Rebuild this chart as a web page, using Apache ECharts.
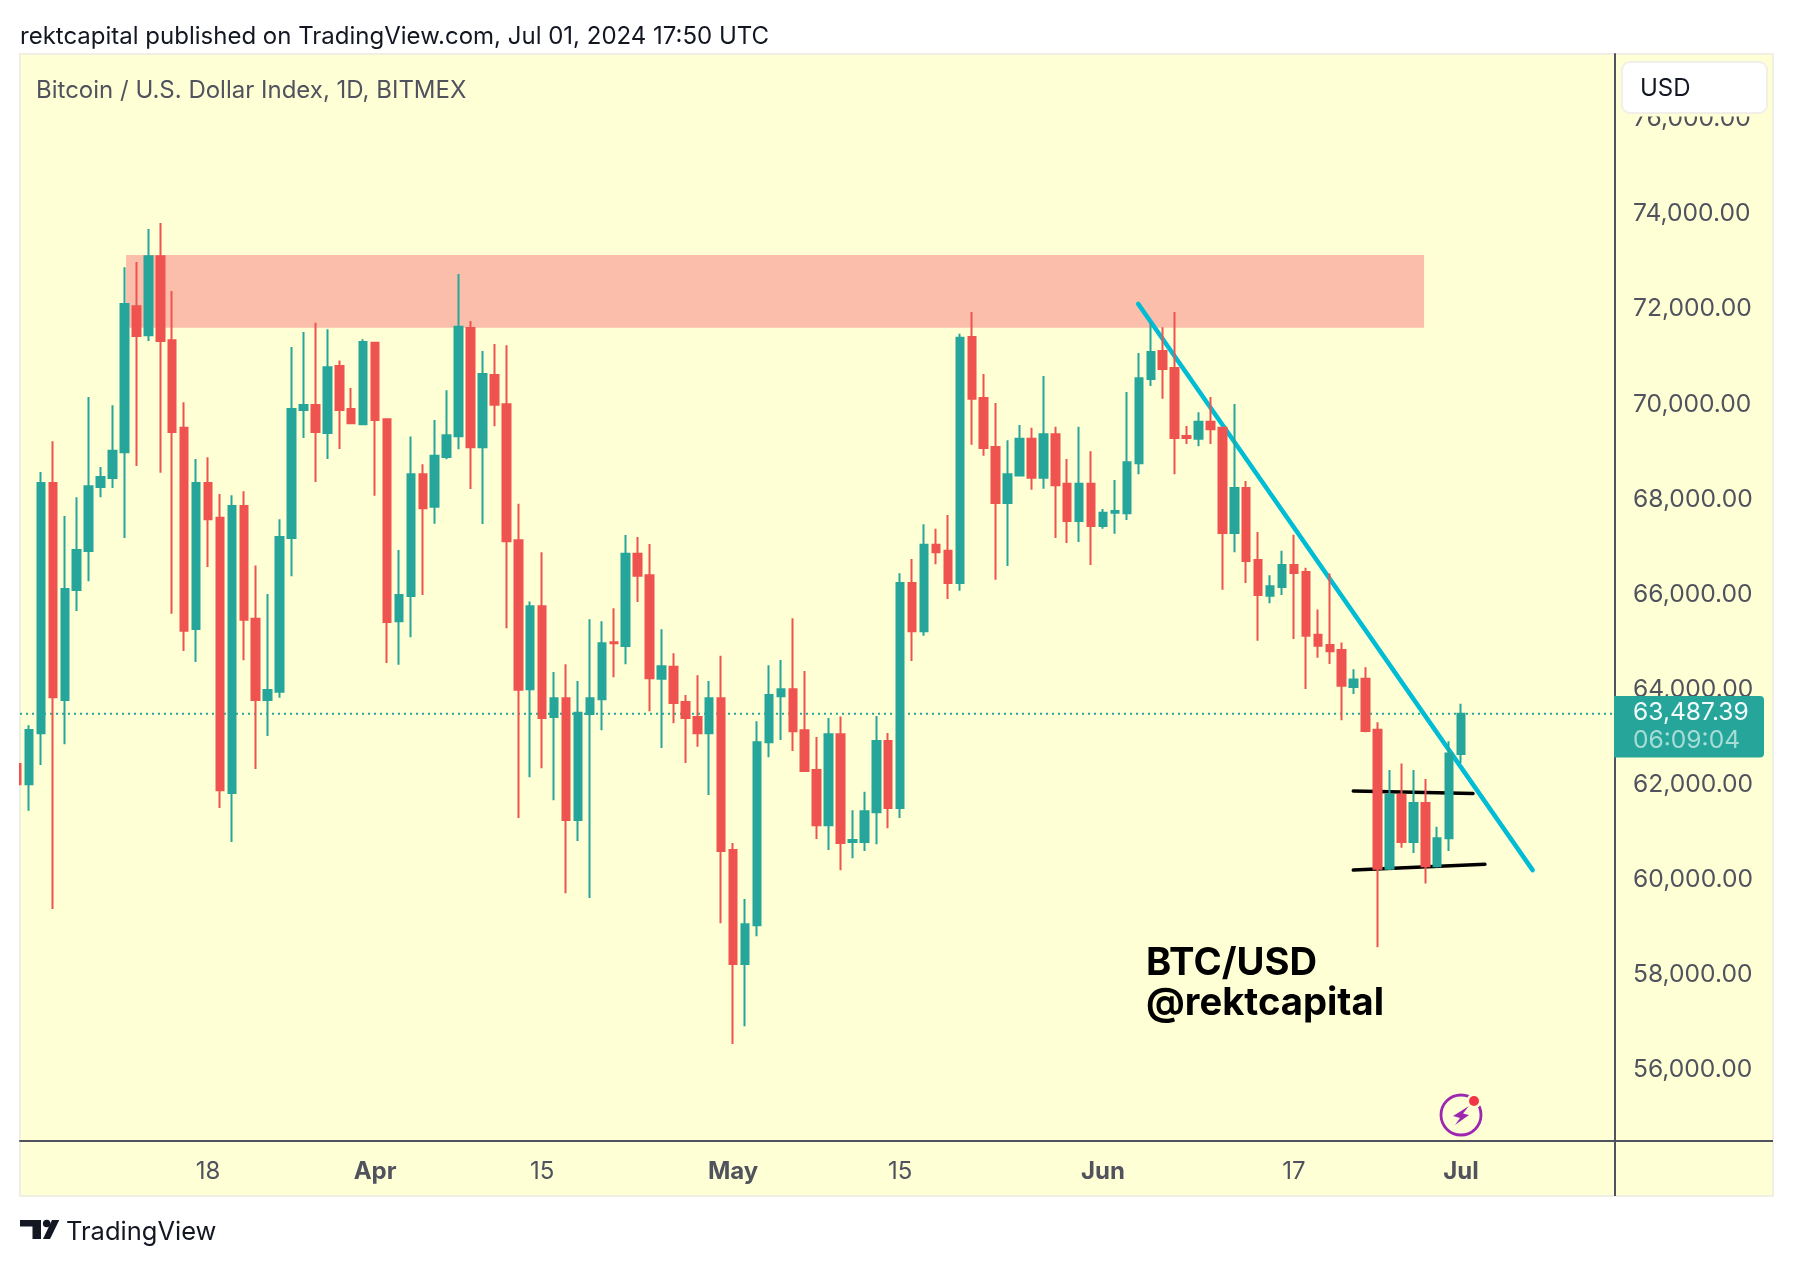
<!DOCTYPE html>
<html><head><meta charset="utf-8">
<style>html,body{margin:0;padding:0;background:#fff}#c{width:1794px;height:1266px}</style>
<script src="https://cdn.jsdelivr.net/npm/echarts@6/dist/echarts.min.js"></script>
</head><body><div id="c"></div>
<script>
const firstDayIndex = -1; // Mar 2 2024 (day 0 = Mar 3)
const opens = [62433,62008,63080,68342,63775,66092,66913,68255,68448,68989,72060,71451,73112,71345,69501,65272,68342,67608,61824,67859,65484,63775,63949,67183,69878,69984,69395,70804,69897,69578,71290,69684,65436,65967,68526,67840,68886,69326,71603,69095,70613,69997,67137,64002,65751,63419,63815,61252,63485,63793,64992,64915,66851,66400,64222,64475,63738,63419,63078,63815,60625,58227,59041,62891,63859,64002,63144,62308,61142,63056,60790,60790,61417,62917,61507,66239,65225,67040,66915,66239,71414,70130,69097,67919,68498,69271,68450,69367,68324,67542,68324,67436,67716,67706,68759,70526,71115,70758,69329,69271,69628,69502,67291,68238,66722,65968,66152,66615,66470,65148,64935,64828,64050,64224,63151,60227,61783,60791,61609,60281,60871,62641];
const closes = [62008,63147,68342,63833,66112,66932,68275,68468,69018,72108,71432,73112,71326,69414,65233,68342,67579,61882,67859,65465,63775,63987,67203,69897,69984,69414,70776,69878,69598,71307,69665,65416,65986,68526,67811,68912,69348,71625,69095,70635,69986,67115,63991,65751,63397,63815,61252,63507,63815,64970,64970,66851,66389,64233,64486,63716,63397,63078,63815,60603,58227,59063,62891,63881,64002,63122,62286,61142,63056,60768,60834,61439,62913,61507,66239,65225,67040,66886,66239,71395,70111,69078,67919,68527,69271,68450,69367,68295,67542,68324,67436,67716,67755,68778,70545,71096,70738,69290,69290,69628,69473,67291,68238,66702,65988,66171,66615,66451,65128,64916,64801,64076,64211,63124,60227,61783,60791,61609,60281,60871,62655,63487.39];
const lows = [62008,61448,62413,59381,62848,65648,66276,68043,68236,67183,68699,71326,68555,65590,64808,64576,66575,61506,60791,64615,62327,63022,63823,66382,69289,68361,68844,69057,69578,69570,68072,64557,64518,65098,65986,67483,68842,69051,68215,67478,69535,65289,61296,62154,62341,61670,59712,60812,59613,63144,64255,64530,65839,63540,62770,63287,62451,62792,61780,59085,56544,56918,58810,62572,62935,62704,62264,60856,60625,60196,60449,60603,60746,61082,61295,64597,65128,66635,65901,66075,69145,68913,66306,66596,68489,68199,68218,67185,67079,67098,66615,67378,67272,67562,68527,70381,70111,68527,69164,69116,69164,66094,66886,66239,65022,65814,65988,65061,64008,64665,64533,63352,63902,63100,58578,60200,60670,60562,59919,60254,60603,62454];
const highs = [62433,63244,68574,69221,67647,68043,70148,68680,69974,72881,72987,73682,73808,72378,70042,68844,68883,68110,68082,68168,66604,66005,67579,71200,71519,71712,71577,70920,70341,71365,71300,69690,66932,69317,68738,69665,70294,72736,71746,71119,71262,71240,67907,65850,66884,64365,64530,64178,65476,65432,65707,67247,67203,67060,65267,64761,63881,64299,64178,64706,60768,59591,63331,64508,64618,65498,64387,63001,63397,63430,61461,61846,63441,63081,66441,66741,67475,67378,67668,71482,71936,70632,70024,69242,69560,69502,70594,69522,68846,69522,69010,67793,68402,70256,71076,71723,71617,71936,69541,69831,70149,69522,70005,68382,67311,66403,66915,67253,66557,65679,66437,64989,64425,64465,63312,62306,62440,62306,62118,61112,62910,63701];

const lastPrice = 63487.39;
const countdown = '06:09:04';
const priceTicks = [56000,58000,60000,62000,64000,66000,68000,70000,72000,74000,76000];
const dayTicks = [15,29,43,59,73,90,106,120];
const dayTickLabels = ['18','Apr','15','May','15','Jun','17','Jul'];
const monthLabels = ['Apr','May','Jun','Jul'];

const zoneDays = [8.13,116.9];
const zonePrices = [73134,71606];
const trendDays = [92.94,126.0];
const trendPrices = [72110,60200];
const channelTopDays = [110.97,121.0];
const channelTopPrices = [61863,61810];
const channelBottomDays = [110.97,122.0];
const channelBottomPrices = [60200,60321];

const xMin=-0.754, xMax=132.9, yMin=54509.5, yMax=77363.3;
const BG='#FFFFD6', GREEN='#26A69A', RED='#EF5350', AXIS='#50535E', FONT='Inter';

const ohlc = opens.map((o,k)=>[k+firstDayIndex,o,closes[k],lows[k],highs[k]]);
const pair=(xs,ys)=>xs.map((x,k)=>[x,ys[k]]);
const lineSeries=(data,color,width,type,z,cap)=>({type:'line',data,symbol:'none',silent:true,z,animation:false,clip:true,
  lineStyle:{color,width,type:type||'solid',cap:cap||'round'}});

const chart=echarts.init(document.getElementById('c'),null,{renderer:'canvas',width:1794,height:1266});
chart.setOption({
  animation:false,
  backgroundColor:'#fff',
  grid:{left:20,top:54,width:1595,height:1086.7,containLabel:false},
  xAxis:{type:'value',min:xMin,max:xMax,splitLine:{show:false},
    axisLine:{show:true,lineStyle:{color:AXIS,width:2},onZero:false},axisTick:{show:false},
    axisLabel:{customValues:dayTicks,margin:19,color:AXIS,fontFamily:FONT,fontSize:24,
      formatter:v=>{const s=dayTickLabels[dayTicks.indexOf(v)];return monthLabels.includes(s)?'{m|'+s+'}':s;},
      rich:{m:{fontWeight:'bold',color:AXIS,fontFamily:FONT,fontSize:24}}}},
  yAxis:{type:'value',position:'right',min:yMin,max:yMax,splitLine:{show:false},scale:true,
    axisLine:{show:true,lineStyle:{color:AXIS,width:2},onZero:false},axisTick:{show:false},
    axisLabel:{customValues:priceTicks,margin:18,color:AXIS,fontFamily:FONT,fontSize:24.6,padding:[0,0,6,0],
      formatter:v=>v.toLocaleString('en-US',{minimumFractionDigits:2,maximumFractionDigits:2})}},
  series:[
    {type:'line',data:[],z:1,silent:true,
      markArea:{silent:true,itemStyle:{color:'#FBBEAA',opacity:1},
        data:[[{xAxis:zoneDays[0],yAxis:zonePrices[0]},{xAxis:zoneDays[1],yAxis:zonePrices[1]}]]}},
    lineSeries([[xMin,lastPrice],[xMax,lastPrice]],GREEN,2,[2,4],2,'butt'),
    lineSeries(pair(trendDays,trendPrices),'#00BCD4',4.5,null,3),
    lineSeries(pair(channelTopDays,channelTopPrices),'#000',3.5,null,3),
    lineSeries(pair(channelBottomDays,channelBottomPrices),'#000',3.5,null,3),
    {type:'candlestick',z:5,layout:'horizontal',clip:true,barWidth:8,silent:true,
      encode:{x:0,y:[1,2,3,4]},data:ohlc,
      itemStyle:{color:GREEN,color0:RED,borderColor:GREEN,borderColor0:RED,borderWidth:2}}
  ],
  graphic:[
    {type:'rect',z:-5,silent:true,shape:{x:20,y:54,width:1753,height:1142},style:{fill:BG,stroke:'#F0F0E2',lineWidth:2}},
    // the first day's candle is cut off by the left edge of the pane
    {type:'rect',z:10,silent:true,shape:{x:0,y:60,width:19,height:1136},style:{fill:'#fff'}},
    {type:'line',z:1,silent:true,shape:{x1:1615,y1:1140,x2:1615,y2:1196},style:{stroke:AXIS,lineWidth:2}},
    {type:'line',z:1,silent:true,shape:{x1:1615,y1:1141,x2:1773,y2:1141},style:{stroke:AXIS,lineWidth:2}},
    {type:'text',z:20,silent:true,x:20,y:37,style:{text:'rektcapital published on TradingView.com, Jul 01, 2024 17:50 UTC',fill:'#131722',font:'24px '+FONT,textVerticalAlign:'middle'}},
    {type:'text',z:20,silent:true,x:36,y:91,style:{text:'Bitcoin / U.S. Dollar Index, 1D, BITMEX',fill:AXIS,font:'24px '+FONT,textVerticalAlign:'middle'}},
    {type:'rect',z:19,silent:true,shape:{x:1617,y:100,width:155,height:16.5},style:{fill:BG}},
    {type:'rect',z:20,silent:true,shape:{x:1622,y:62,width:145,height:51,r:8},style:{fill:'#fff',stroke:'#F0F0E8',lineWidth:2}},
    {type:'text',z:21,silent:true,x:1640,y:89,style:{text:'USD',fill:'#131722',font:'24px '+FONT,textVerticalAlign:'middle'}},
    {type:'rect',z:20,silent:true,shape:{x:1614,y:696,width:150,height:61.5,r:[0,4,4,0]},style:{fill:GREEN}},
    {type:'text',z:21,silent:true,x:1633,y:713,style:{text:lastPrice.toLocaleString('en-US'),fill:'#F2FBFA',font:'24.6px '+FONT,textVerticalAlign:'middle'}},
    {type:'text',z:21,silent:true,x:1633,y:741,style:{text:countdown,fill:'#A8DDD7',font:'24.6px '+FONT,textVerticalAlign:'middle'}},
    {type:'text',z:20,silent:true,x:1146,y:964,style:{text:'BTC/USD',fill:'#000',font:'bold 38.2px '+FONT,textVerticalAlign:'middle'}},
    {type:'text',z:20,silent:true,x:1146,y:1004,style:{text:'@rektcapital',fill:'#000',font:'bold 38.2px '+FONT,textVerticalAlign:'middle'}},
    // alert badge
    {type:'circle',z:20,silent:true,shape:{cx:1461,cy:1115,r:20},style:{fill:'none',stroke:'#9C27B0',lineWidth:2.8}},
    {type:'polygon',z:20,silent:true,shape:{points:[[1469,1106],[1453,1116],[1460,1118],[1455,1125],[1469,1115],[1463,1113.5]]},style:{fill:'#9C27B0'}},
    {type:'circle',z:21,silent:true,shape:{cx:1474,cy:1101,r:7.5},style:{fill:BG}},
    {type:'circle',z:22,silent:true,shape:{cx:1474,cy:1101,r:5},style:{fill:'#F23645'}},
    // TradingView logo
    {type:'polygon',z:20,silent:true,shape:{points:[[20,1220],[41,1220],[41,1239],[32.5,1239],[32.5,1226.5],[20,1226.5]]},style:{fill:'#131722'}},
    {type:'circle',z:20,silent:true,shape:{cx:46.7,cy:1223.5,r:3.8},style:{fill:'#131722'}},
    {type:'polygon',z:20,silent:true,shape:{points:[[52,1220],[59.3,1220],[50,1239],[43,1239]]},style:{fill:'#131722'}},
    {type:'text',z:20,silent:true,x:66,y:1232,style:{text:'TradingView',fill:'#131722',font:'25.5px '+FONT,textVerticalAlign:'middle'}}
  ]
});
</script></body></html>
